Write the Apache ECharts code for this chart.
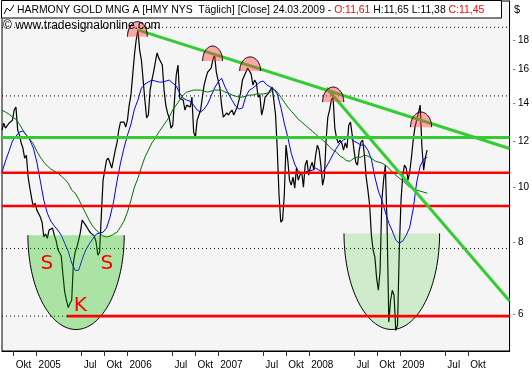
<!DOCTYPE html>
<html><head><meta charset="utf-8">
<script src="https://cdn.jsdelivr.net/npm/echarts@6/dist/echarts.min.js"></script>
<style>html,body{margin:0;padding:0;background:#fff}#c{width:532px;height:380px}</style>
</head><body><div id="c"></div>
<script>
// ---------- data ----------
const startDate = '2004-08-15';   // first sample
const priceStepDays = 7;          // close sampled weekly
const maStepDays = 14;            // averages sampled every two weeks
const closeValues = [
 12.55,12.90,12.65,12.70,12.90,12.96,13.06,13.60,13.76,12.55,
 12.30,11.92,11.68,11.22,11.35,10.40,9.95,9.56,9.22,9.37,
 9.11,9.11,8.86,8.68,8.18,8.28,8.14,8.41,8.41,8.48,
 8.24,8.08,7.79,7.73,7.58,7.02,6.56,6.35,6.17,6.27,
 6.35,7.39,7.70,7.86,8.08,8.34,8.75,8.82,8.58,8.48,
 8.38,8.31,8.31,8.21,8.02,7.61,7.70,8.93,10.27,10.69,
 11.13,11.22,11.00,10.78,10.78,11.58,11.92,12.55,12.96,13.06,
 12.96,12.70,13.06,13.87,14.44,15.64,16.95,18.00,18.74,17.29,
 16.61,15.33,14.15,13.17,13.33,14.73,15.33,15.83,16.48,17.09,
 16.74,16.81,16.28,14.73,13.87,13.44,13.17,12.65,12.80,14.15,
 15.64,16.28,14.26,14.15,14.15,13.60,13.87,13.98,13.76,14.32,
 12.45,12.20,13.06,13.33,13.60,14.32,15.03,15.45,15.83,15.77,
 16.09,16.61,16.95,15.83,15.33,14.91,13.87,13.22,13.33,13.44,
 13.33,13.49,13.60,13.33,13.33,13.76,14.15,14.61,15.33,15.45,
 15.83,16.09,16.09,15.70,15.03,15.33,15.15,14.32,14.44,13.33,
 13.71,14.32,14.32,14.55,14.73,14.91,14.15,13.33,11.58,9.67,
 8.68,8.75,9.67,11.82,11.13,10.27,10.07,10.40,9.95,10.78,
 10.27,10.48,10.61,9.99,10.91,11.13,10.48,10.82,11.04,10.69,
 11.35,11.82,11.58,10.91,10.07,10.40,12.06,13.22,13.60,14.15,
 14.32,12.65,12.16,11.92,12.06,11.92,11.58,11.92,11.68,12.80,
 12.96,12.30,11.58,11.04,10.91,11.58,11.96,12.06,11.35,10.40,
 9.87,9.29,8.24,7.76,7.55,6.94,6.61,7.16,9.48,10.27,
 10.91,8.58,5.82,6.35,6.61,6.48,5.63,5.75,7.76,9.48,
 10.48,10.91,10.78,10.27,10.61,11.26,12.06,12.70,13.06,13.44,
 13.87,11.73,10.69,11.26,11.58];
const maShort = [10.61,11.09,11.53,12.01,12.25,12.45,12.50,12.30,12.06,11.68,
 11.04,10.23,9.48,9.00,8.72,8.55,8.41,8.24,7.98,7.73,
 7.37,7.16,7.16,7.48,7.76,7.95,8.11,8.27,8.31,8.34,
 8.48,8.86,9.41,10.23,11.00,11.68,12.30,12.85,13.65,14.15,
 14.85,15.09,15.21,15.33,15.27,15.21,15.21,15.27,15.33,15.15,
 14.97,14.55,14.26,14.15,14.09,13.87,13.60,13.49,13.65,13.93,
 14.38,14.85,15.21,15.45,14.91,14.50,14.15,13.82,13.65,13.71,
 14.38,14.73,14.85,15.03,15.21,15.27,15.03,14.91,14.79,14.50,
 13.76,12.90,12.20,11.44,10.95,10.65,10.57,10.61,10.65,10.69,
 10.78,10.69,10.61,10.82,11.09,11.40,11.68,11.92,12.06,12.16,
 12.16,12.01,11.92,11.82,11.82,11.58,11.17,10.40,9.83,9.48,
 9.04,8.65,8.38,8.08,7.98,8.05,8.24,8.51,9.15,10.19,
 10.87,11.17,11.26];
const maLong = [13.60,13.49,13.38,13.22,13.11,12.85,12.55,12.30,12.11,11.87,
 11.53,11.26,11.04,10.87,10.74,10.65,10.57,10.44,10.31,10.15,
 9.87,9.75,9.52,9.25,9.00,8.75,8.55,8.41,8.31,8.21,
 8.18,8.21,8.27,8.34,8.51,8.72,9.04,9.48,9.99,10.35,
 10.82,11.26,11.58,11.92,12.16,12.45,12.70,12.96,13.22,13.60,
 13.87,14.15,14.44,14.61,14.67,14.73,14.73,14.73,14.67,14.61,
 14.67,14.73,14.73,14.73,14.61,14.55,14.44,14.38,14.32,14.32,
 14.38,14.44,14.44,14.50,14.50,14.50,14.55,14.61,14.79,14.61,
 14.32,14.04,13.76,13.54,13.33,13.11,12.96,12.80,12.65,12.50,
 12.35,12.20,12.06,11.92,11.73,11.58,11.49,11.31,11.22,11.09,
 11.09,11.22,11.26,11.26,11.35,11.31,11.22,11.09,11.04,11.00,
 10.91,10.78,10.61,10.48,10.35,10.27,10.11,9.99,9.91,9.87,
 9.83,9.79,9.75];

const xMinDate = '2004-08-15';
const xMaxDate = '2010-03-16';
const yMin = 5.184, yMax = 21.04;
const yTicks = [6, 8, 10, 12, 14, 16, 18];
const xTicks = ['2004-10-01','2005-01-01','2005-07-01','2005-10-01','2006-01-01','2006-07-01','2006-10-01',
  '2007-01-01','2007-07-01','2007-10-01','2008-01-01','2008-07-01','2008-10-01','2009-01-01','2009-07-01','2009-10-01'];
const monthNames = {6: 'Jul', 9: 'Okt'};

const dottedLevels = [18.94, 14.39, 7.81, 5.96];
const redLevels = [10.58, 9.26];
const redLowLevel = 5.96, redLowStart = '2005-05-02';
const greenLevel = 12.18;
const trendUpper = [['2006-02-11', 18.74], ['2010-03-16', 11.66]];
const trendSteep = [['2008-03-11', 14.85], ['2010-03-16', 6.33]];
// bowls: left date, right date, top value, bottom value
const bowls = [['2004-11-27', '2005-12-19', 8.24, 5.65], ['2008-05-20', '2009-06-08', 8.30, 5.65]];
const bowlColors = ['rgba(20,190,0,0.33)', 'rgba(20,190,0,0.17)'];
// caps: left date, right date, base value, top value
const caps = [['2006-01-01','2006-03-22',18.24,19.37],['2006-10-30','2007-01-18',16.55,17.57],
  ['2007-03-28','2007-06-20',15.90,16.82],['2008-02-24','2008-05-19',14.04,14.91],['2009-02-11','2009-05-07',12.70,13.49]];
const marks = [['2005-02-11', 7.34], ['2005-06-26', 6.20], ['2005-10-10', 7.34]];
const markTexts = ['S', 'K', 'S'];

// ---------- build ----------
const T = s => { const p = s.split('-').map(Number); return new Date(p[0], p[1] - 1, p[2]).getTime(); };
const s0 = startDate.split('-').map(Number);
const dateAt = (i, step) => new Date(s0[0], s0[1] - 1, s0[2] + step * i).getTime();
const xMin = T(xMinDate), xMax = T(xMaxDate);
const FONT = '"Liberation Sans", Arial, sans-serif';

function hLine(level, color, width, type, z, from) {
  return {type: 'line', silent: true, symbol: 'none', z: z, animation: false,
    data: [[from !== undefined ? from : xMin, level], [xMax, level]],
    lineStyle: {color: color, width: width, type: type}};
}

const series = [];
dottedLevels.forEach(l => series.push(hLine(l, '#000', 1, [1, 3], 1)));
series.push({type: 'line', symbol: 'none', z: 2, data: closeValues.map((v, i) => [dateAt(i, priceStepDays), v]),
  lineStyle: {color: '#000', width: 1.2}});
series.push({type: 'line', symbol: 'none', z: 3, data: maShort.map((v, i) => [dateAt(i, maStepDays), v]),
  lineStyle: {color: '#0000ff', width: 1}});
series.push({type: 'line', symbol: 'none', z: 3, data: maLong.map((v, i) => [dateAt(i, maStepDays), v]),
  lineStyle: {color: '#007000', width: 1}});
series.push({type: 'custom', z: 4, silent: true, encode: {x: [0, 1], y: [2, 3]},
  data: bowls.map(b => [T(b[0]), T(b[1]), b[2], b[3]]),
  renderItem: function (params, api) {
    const a = api.coord([api.value(0), api.value(2)]);
    const b = api.coord([api.value(1), api.value(3)]);
    const cx = (a[0] + b[0]) / 2, rx = (b[0] - a[0]) / 2, top = a[1], ry = b[1] - a[1];
    const pts = [];
    for (let k = 0; k <= 80; k++) { const t = Math.PI * k / 80; pts.push([cx - rx * Math.cos(t), top + ry * Math.sin(t)]); }
    return {type: 'group', children: [
      {type: 'polygon', shape: {points: pts}, style: {fill: bowlColors[params.dataIndex], stroke: null}},
      {type: 'polyline', shape: {points: pts}, style: {fill: null, stroke: '#000', lineWidth: 1}}
    ]};
  }});
redLevels.forEach(l => series.push(hLine(l, '#ff0000', 2.6, 'solid', 5)));
series.push(hLine(redLowLevel, '#ff0000', 2.6, 'solid', 5, T(redLowStart)));
series.push(hLine(greenLevel, '#33cc33', 3, 'solid', 5));
[trendUpper, trendSteep].forEach(tl => series.push({type: 'line', symbol: 'none', z: 5, silent: true,
  data: tl.map(p => [T(p[0]), p[1]]), lineStyle: {color: '#33cc33', width: 3}}));
series.push({type: 'custom', z: 6, silent: true, encode: {x: [0, 1], y: [2, 3]},
  data: caps.map(c => [T(c[0]), T(c[1]), c[2], c[3]]),
  renderItem: function (params, api) {
    const a = api.coord([api.value(0), api.value(2)]);
    const b = api.coord([api.value(1), api.value(3)]);
    const cx = (a[0] + b[0]) / 2, rx = (b[0] - a[0]) / 2, base = a[1], ry = a[1] - b[1];
    const pts = [];
    for (let k = 0; k <= 40; k++) { const t = Math.PI * k / 40; pts.push([cx - rx * Math.cos(t), base - ry * Math.sin(t)]); }
    return {type: 'group', children: [
      {type: 'polygon', shape: {points: pts}, style: {fill: 'rgba(255,60,60,0.42)', stroke: null}},
      {type: 'polyline', shape: {points: pts}, style: {fill: null, stroke: '#000', lineWidth: 1}}
    ]};
  }});
series.push({type: 'custom', z: 7, silent: true,
  data: marks.map(m => [T(m[0]), m[1]]),
  renderItem: function (params, api) {
    const p = api.coord([api.value(0), api.value(1)]);
    return {type: 'text', x: p[0], y: p[1], style: {text: markTexts[params.dataIndex], fill: '#ff0000',
      font: '20px "DejaVu Sans", sans-serif', align: 'center', verticalAlign: 'middle'}};
  }});

const chart = echarts.init(document.getElementById('c'), null, {renderer: 'canvas'});
chart.setOption({
  animation: false,
  backgroundColor: '#fff',
  grid: {left: 2, right: 22, top: 1, bottom: 29, show: true, backgroundColor: '#f5f5f5', borderColor: '#000', borderWidth: 1},
  xAxis: {type: 'value', min: xMin, max: xMax, scale: true,
    axisLine: {show: true, lineStyle: {color: '#000', width: 1}},
    axisTick: {show: true, customValues: xTicks.map(T), length: 5, lineStyle: {color: '#333'}},
    axisLabel: {customValues: xTicks.map(T), align: 'left', padding: [0, 0, 0, 2], margin: 9,
      color: '#000', fontSize: 10, fontFamily: FONT,
      formatter: function (v) { const d = new Date(v); const m = d.getMonth(); return m === 0 ? String(d.getFullYear()) : monthNames[m]; }},
    splitLine: {show: false}},
  yAxis: {type: 'log', logBase: 10, min: yMin, max: yMax, position: 'right',
    axisLine: {show: true, lineStyle: {color: '#000', width: 1}},
    axisTick: {show: false},
    axisLabel: {customValues: yTicks, margin: 3, color: '#000', fontSize: 10, fontFamily: FONT,
      formatter: v => '{d|-}' + v, rich: {d: {color: '#777', fontSize: 10, padding: [0, 2, 0, 0]}}},
    splitLine: {show: false}},
  graphic: [
    {type: 'rect', z: 100, shape: {x: 1.5, y: 0.5, width: 500, height: 17.5}, style: {fill: '#fff', stroke: '#000', lineWidth: 1}},
    {type: 'polyline', z: 101, shape: {points: [[4, 14], [7, 8], [10, 11], [14, 5]]}, style: {fill: null, stroke: '#000', lineWidth: 1}},
    {type: 'text', z: 101, x: 17, y: 10, scaleX: 0.945, style: {
      text: '{k|HARMONY GOLD MNG A [HMY NYS  Täglich] [Close] 24.03.2009 - }{r|O:11,61}{k| H:11,65 L:11,38 }{r|C:11,45}',
      fontSize: 11, fontFamily: FONT, verticalAlign: 'middle',
      rich: {k: {fill: '#000', fontSize: 11, fontFamily: FONT}, r: {fill: '#ff0000', fontSize: 11, fontFamily: FONT}}}},
    {type: 'text', z: 101, x: 3, y: 26, style: {text: '© www.tradesignalonline.com', fill: '#000', fontSize: 12, fontFamily: FONT, verticalAlign: 'middle'}},
    {type: 'text', z: 101, x: 514, y: 10, style: {text: '$', fill: '#000', fontSize: 11, fontFamily: FONT, verticalAlign: 'middle'}}
  ],
  series: series
});
</script>
</body></html>
